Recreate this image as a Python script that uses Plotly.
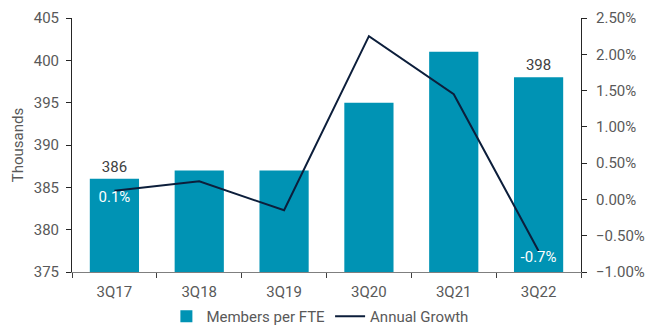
import plotly.graph_objects as go

quarters = ["3Q17", "3Q18", "3Q19", "3Q20", "3Q21", "3Q22"]
members_per_fte = [386, 387, 387, 395, 401, 398]
annual_growth = [0.0012, 0.0025, -0.0015, 0.0225, 0.0145, -0.0071]
bar_labels = ["386", "", "", "", "", "398"]
growth_labels = ["0.1%", "", "", "", "", "-0.7%"]

BAR_COLOR = "#0093B4"
LINE_COLOR = "#0C1E3B"
TEXT_COLOR = "#595959"
FONT = "Roboto"
FS = 15

fig = go.Figure()

fig.add_trace(go.Bar(
    x=quarters,
    y=members_per_fte,
    name="Members per FTE",
    marker=dict(color=BAR_COLOR, line=dict(width=0)),
    text=bar_labels,
    textposition="outside",
    textfont=dict(family=FONT, size=FS, color="#404040"),
    cliponaxis=False,
    yaxis="y",
))

fig.add_trace(go.Scatter(
    x=quarters,
    y=annual_growth,
    name="Annual Growth",
    mode="lines+text",
    line=dict(color=LINE_COLOR, width=2),
    text=growth_labels,
    textposition="bottom center",
    textfont=dict(family=FONT, size=FS, color="white"),
    yaxis="y2",
))

fig.update_layout(
    width=649,
    height=326,
    margin=dict(l=72, r=68, t=18, b=54, autoexpand=False),
    paper_bgcolor="white",
    plot_bgcolor="white",
    font=dict(family=FONT, size=FS, color=TEXT_COLOR),
    bargap=0.42,
    showlegend=True,
    legend=dict(
        orientation="h",
        x=0.488, xanchor="center",
        y=-0.175, yanchor="middle",
        font=dict(family=FONT, size=FS, color=TEXT_COLOR),
        itemwidth=30,
        tracegroupgap=0,
    ),
    xaxis=dict(
        type="category",
        showline=True,
        linecolor="#7F7F7F",
        linewidth=1,
        ticks="outside",
        tickson="boundaries",
        ticklen=5,
        tickcolor="#404040",
        ticklabelstandoff=6,
        showgrid=False,
        tickfont=dict(family=FONT, size=FS, color=TEXT_COLOR),
    ),
    yaxis=dict(
        range=[375, 405],
        dtick=5,
        showline=True,
        linecolor="#262626",
        linewidth=1,
        ticks="outside",
        ticklen=5,
        tickcolor="#262626",
        ticklabelstandoff=4,
        showgrid=False,
        zeroline=False,
        tickfont=dict(family=FONT, size=FS, color=TEXT_COLOR),
        title=dict(text="Thousands", font=dict(family=FONT, size=FS, color=TEXT_COLOR), standoff=6),
    ),
    yaxis2=dict(
        range=[-0.01, 0.025],
        dtick=0.005,
        tickformat=".2%",
        overlaying="y",
        side="right",
        showline=True,
        linecolor="#262626",
        linewidth=1,
        ticks="outside",
        ticklen=5,
        tickcolor="#262626",
        ticklabelstandoff=6,
        showgrid=False,
        zeroline=False,
        tickfont=dict(family=FONT, size=FS, color=TEXT_COLOR),
    ),
)

fig.write_html("out.html")
